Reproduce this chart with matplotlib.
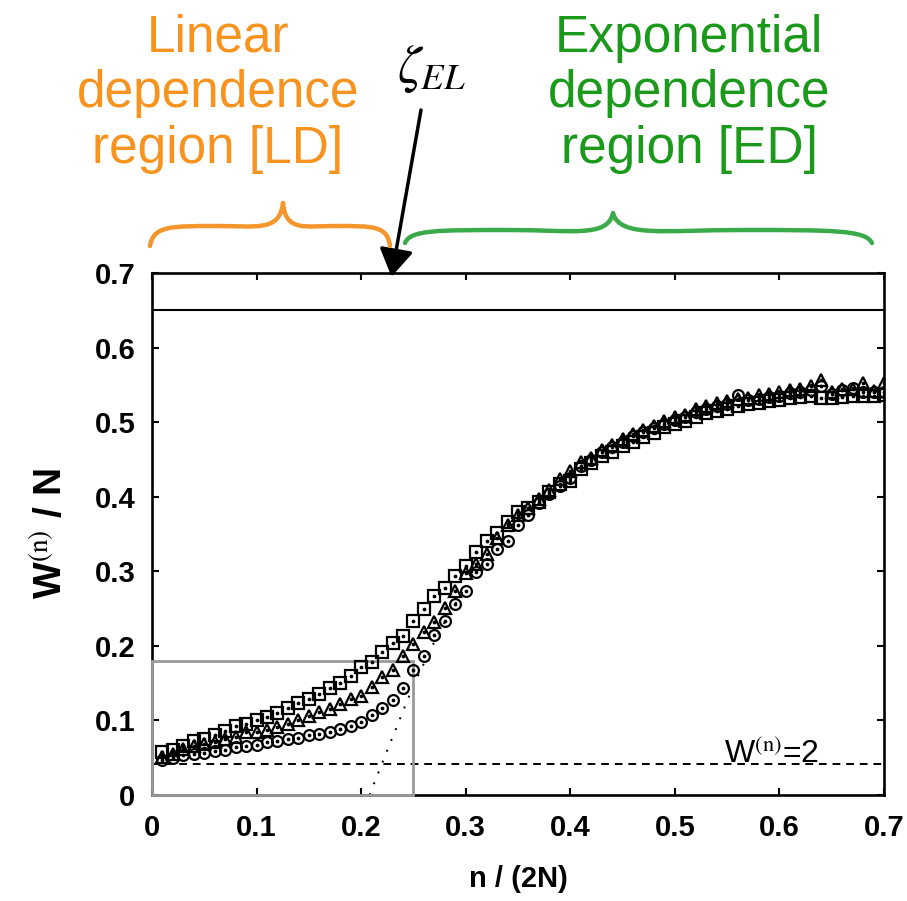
import numpy as np
import matplotlib
matplotlib.use("Agg")
import matplotlib.pyplot as plt
import matplotlib.transforms as mtransforms
from matplotlib.path import Path
from matplotlib.patches import PathPatch, Rectangle

plt.rcParams["font.family"] = ["Liberation Sans", "DejaVu Sans"]
plt.rcParams["mathtext.fontset"] = "stix"

# ---- data -------------------------------------------------------------
n_over_2N = np.round(np.arange(1, 71) * 0.01, 2)

w_square = [0.057, 0.061, 0.066, 0.072, 0.075, 0.080, 0.086, 0.092, 0.095, 0.101,
            0.104, 0.110, 0.116, 0.123, 0.129, 0.135, 0.143, 0.150, 0.160, 0.172,
            0.178, 0.192, 0.204, 0.213, 0.233, 0.250, 0.267, 0.278, 0.294, 0.307,
            0.326, 0.340, 0.352, 0.366, 0.379, 0.385, 0.393, 0.406, 0.417, 0.421,
            0.437, 0.445, 0.455, 0.460, 0.468, 0.474, 0.480, 0.486, 0.493, 0.497,
            0.502, 0.507, 0.512, 0.515, 0.518, 0.521, 0.524, 0.526, 0.529, 0.530,
            0.533, 0.534, 0.535, 0.533, 0.532, 0.534, 0.535, 0.535, 0.535, 0.536]

w_triangle = [0.051, 0.055, 0.062, 0.066, 0.069, 0.071, 0.075, 0.078, 0.084, 0.085,
              0.087, 0.091, 0.095, 0.101, 0.106, 0.111, 0.115, 0.122, 0.129, 0.133,
              0.145, 0.158, 0.168, 0.186, 0.202, 0.219, 0.232, 0.251, 0.273, 0.298,
              0.310, 0.323, 0.345, 0.362, 0.375, 0.385, 0.397, 0.409, 0.424, 0.434,
              0.446, 0.452, 0.462, 0.469, 0.478, 0.484, 0.490, 0.495, 0.502, 0.507,
              0.510, 0.517, 0.522, 0.525, 0.528, 0.531, 0.533, 0.536, 0.538, 0.540,
              0.543, 0.545, 0.548, 0.557, 0.540, 0.545, 0.544, 0.553, 0.542, 0.553]

w_circle = [0.047, 0.050, 0.053, 0.055, 0.056, 0.059, 0.061, 0.064, 0.066, 0.067,
            0.071, 0.073, 0.075, 0.077, 0.080, 0.082, 0.085, 0.088, 0.092, 0.098,
            0.107, 0.116, 0.128, 0.144, 0.167, 0.187, 0.214, 0.233, 0.256, 0.274,
            0.299, 0.310, 0.330, 0.341, 0.362, 0.376, 0.392, 0.403, 0.414, 0.425,
            0.441, 0.449, 0.460, 0.466, 0.474, 0.481, 0.487, 0.492, 0.498, 0.503,
            0.507, 0.513, 0.518, 0.521, 0.524, 0.536, 0.530, 0.531, 0.534, 0.535,
            0.539, 0.541, 0.543, 0.548, 0.538, 0.543, 0.546, 0.540, 0.540, 0.541]

# extrapolated onset of the exponential regime
fit_x = [0.208, 0.225, 0.250, 0.275, 0.300]
fit_y = [0.000, 0.060, 0.147, 0.220, 0.280]

w2_level = 0.042        # W^(n) = 2
upper_level = 0.65
zeta_el = 0.229
ld_box_x = 0.25
ld_box_y = 0.18

x_ticks = [0, 0.1, 0.2, 0.3, 0.4, 0.5, 0.6, 0.7]
x_tick_labels = ["0", "0.1", "0.2", "0.3", "0.4", "0.5", "0.6", "0.7"]
y_ticks = [0, 0.1, 0.2, 0.3, 0.4, 0.5, 0.6, 0.7]
y_tick_labels = ["0", "0.1", "0.2", "0.3", "0.4", "0.5", "0.6", "0.7"]

# ---- figure -----------------------------------------------------------
W, H = 907, 901
fig = plt.figure(figsize=(W / 100, H / 100), dpi=100)
ax = fig.add_axes([152 / W, 1 - 795 / H, (884 - 152) / W, (795 - 273) / H])
# pixel-based transform for the annotations above the axes
px = mtransforms.Affine2D().scale(1 / W, -1 / H).translate(0, 1) + fig.transFigure

ax.set_xlim(0, 0.7)
ax.set_ylim(0, 0.7)

mk = dict(linestyle="none", markerfacecolor="none", markeredgecolor="black",
          markeredgewidth=1.6, zorder=4)
dot = dict(linestyle="none", marker="o", markersize=1.7, color="black", zorder=5)

ax.plot(fit_x, fit_y, color="black", lw=1.4, dashes=(1, 5), zorder=2)
ax.axhline(w2_level, color="black", lw=1.4, dashes=(4, 3), zorder=2)
ax.axhline(upper_level, color="black", lw=1.5, zorder=2)

ax.plot(n_over_2N, w_square, marker="s", markersize=8.0, **mk)
ax.plot(n_over_2N, w_triangle, marker="^", markersize=9.0, **mk)
ax.plot(n_over_2N, w_circle, marker="o", markersize=7.8, **mk)
ax.plot(n_over_2N, w_square, **dot)
ax.plot(n_over_2N, w_triangle, **dot)
ax.plot(n_over_2N, w_circle, **dot)

ax.add_patch(Rectangle((0, 0), ld_box_x, ld_box_y, fill=False,
                       edgecolor="#9a9a9a", lw=2.0, clip_on=False, zorder=3))

ax.text(0.547, w2_level + 0.001, "W$^{\\mathrm{(n)}}$=2", fontsize=23,
        va="baseline", ha="left", zorder=6)

for s in ax.spines.values():
    s.set_linewidth(1.9)
ax.tick_params(direction="in", length=5, width=1.5, top=True, right=True,
               labelsize=21)
ax.tick_params(axis="x", pad=14)
ax.tick_params(axis="y", pad=12)
ax.set_xticks(x_ticks)
ax.set_xticklabels(x_tick_labels, fontweight="bold")
ax.set_yticks(y_ticks)
ax.set_yticklabels(y_tick_labels, fontweight="bold")

ax.set_xlabel("n / (2N)", fontsize=21, fontweight="bold", labelpad=16)
ax.set_ylabel("W$^{\\mathrm{(n)}}$ / N", fontsize=28, fontweight="bold", labelpad=18)

# ---- region labels, braces and the crossover arrow ---------------------
orange = "#F7931E"
green = "#1A991A"
for txt, y in zip(["Linear", "dependence", "region [LD]"], [52, 107, 163]):
    fig.text(218, y, txt, transform=px, ha="center", va="baseline",
             fontsize=37, color=orange)
for txt, y in zip(["Exponential", "dependence", "region [ED]"], [52, 107, 163]):
    fig.text(689, y, txt, transform=px, ha="center", va="baseline",
             fontsize=37, color=green)

fig.text(432, 82, r"$\zeta_{EL}$", transform=px, ha="center", va="baseline",
         fontsize=38)


def brace(x0, x1, xp, y_end, y_mid, y_peak, dip):
    q0 = (xp - x0) / 2
    q1 = (x1 - xp) / 2
    verts = [
        (x0, y_end), (x0 + 0.05 * q0, y_mid), (x0 + 0.3 * q0, y_mid), (x0 + q0, y_mid),
        (x0 + 1.6 * q0, y_mid), (xp - 0.05 * q0, y_mid + dip), (xp, y_peak),
        (xp + 0.05 * q1, y_mid + dip), (x1 - 1.6 * q1, y_mid), (x1 - q1, y_mid),
        (x1 - 0.3 * q1, y_mid), (x1 - 0.05 * q1, y_mid), (x1, y_end),
    ]
    codes = [Path.MOVETO] + [Path.CURVE4] * 12
    return Path(verts, codes)


fig.add_artist(PathPatch(brace(150, 390, 283, 246, 226, 203, 6), transform=px,
                         fill=False, edgecolor="#F4962B", lw=3.2,
                         capstyle="round", joinstyle="round"))
fig.add_artist(PathPatch(brace(405, 872, 613, 243, 230, 213, 8), transform=px,
                         fill=False, edgecolor="#3AAA4A", lw=3.2,
                         capstyle="round", joinstyle="round"))

ax.annotate("", xy=(zeta_el, 0.695), xycoords="data",
            xytext=(421, 110), textcoords=px,
            arrowprops=dict(arrowstyle="-|>,head_length=0.42,head_width=0.26",
                            mutation_scale=40, lw=2.5, color="black",
                            shrinkA=0, shrinkB=0),
            annotation_clip=False)

fig.savefig("out.png", dpi=100)
